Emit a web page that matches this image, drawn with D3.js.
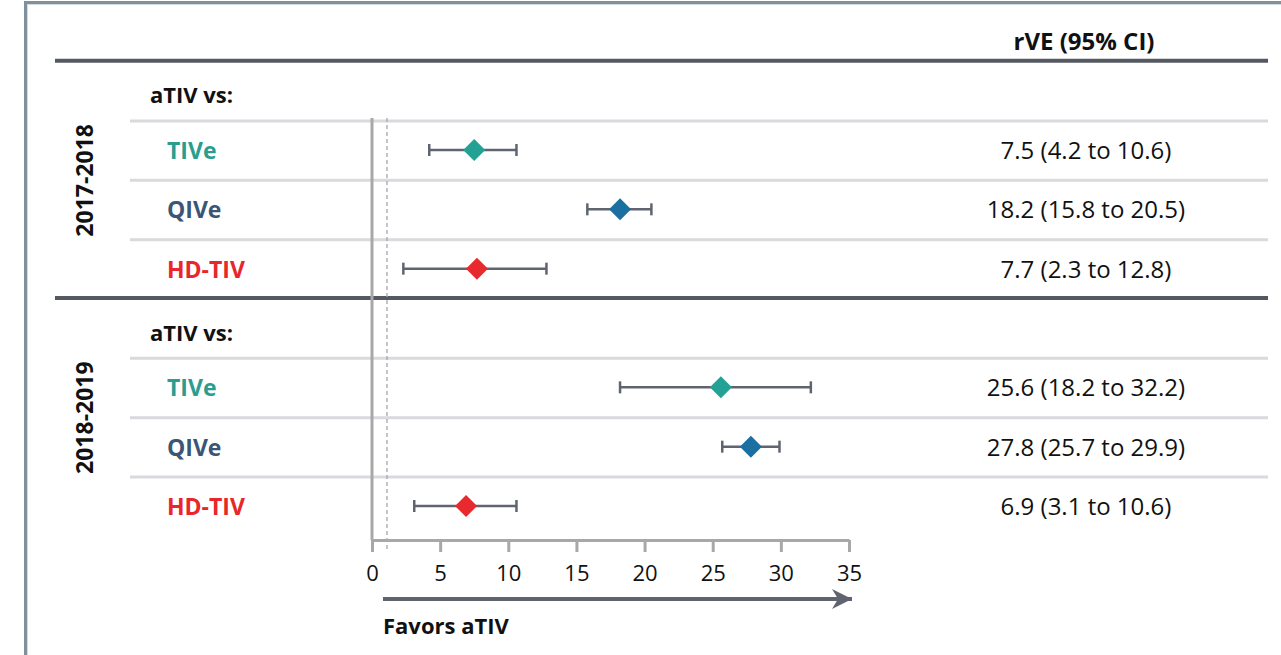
<!DOCTYPE html>
<html>
<head>
<meta charset="utf-8">
<script src="https://cdn.jsdelivr.net/npm/d3@7"></script>
<style>
  body { margin: 0; background: #fff; }
  svg { display: block; font-family: "Open Sans", "Liberation Sans", sans-serif; }
</style>
</head>
<body>
<svg id="chart" width="1281" height="655"></svg>
<script>
const seasons = ['2017-2018', '2018-2019'];
const comparators = ['TIVe', 'QIVe', 'HD-TIV'];
const rve = [[7.5, 18.2, 7.7], [25.6, 27.8, 6.9]];
const lower = [[4.2, 15.8, 2.3], [18.2, 25.7, 3.1]];
const upper = [[10.6, 20.5, 12.8], [32.2, 29.9, 10.6]];
const xTicks = [0, 5, 10, 15, 20, 25, 30, 35];
const refValue = 1.1;

const COLORS = {
  'TIVe':   { label: '#2a9d8f', mark: '#24a195' },
  'QIVe':   { label: '#3b5577', mark: '#1b6fa1' },
  'HD-TIV': { label: '#e8262c', mark: '#e8292e' },
};

const svg = d3.select('#chart');

// rows: 0 header, 1-3 season 1, 4 header, 5-7 season 2
const x = d3.scaleLinear().domain([0, 35]).range([372, 849]);
const y = d3.scaleLinear().domain([1, 7]).range([150, 506]);

const rows = [];
seasons.forEach((s, si) => {
  comparators.forEach((c, ci) => {
    rows.push({ season: s, name: c, idx: si * 4 + ci + 1,
      est: rve[si][ci], lo: lower[si][ci], hi: upper[si][ci] });
  });
});

// frame
svg.append('rect').attr('x', 25.5).attr('y', 2.5).attr('width', 1300).attr('height', 700)
  .attr('fill', 'none').attr('stroke', '#7f909e').attr('stroke-width', 3);
svg.append('rect').attr('x', 27.5).attr('y', 4.5).attr('width', 1300).attr('height', 700)
  .attr('fill', 'none').attr('stroke', '#d3dae0').attr('stroke-width', 1);

// header
svg.append('text').attr('x', 1084).attr('y', 50).attr('text-anchor', 'middle')
  .attr('font-weight', 'bold').attr('font-size', 24).attr('fill', '#111')
  .text('rVE (95% CI)');

// light row separators
svg.selectAll('.row-line').data(rows).join('line').attr('class', 'row-line')
  .attr('x1', 130).attr('x2', 1268)
  .attr('y1', d => y(d.idx) - 29).attr('y2', d => y(d.idx) - 29)
  .attr('stroke', '#d9d9de').attr('stroke-width', 3);

// dark section lines
svg.selectAll('.sec-line').data(seasons).join('line').attr('class', 'sec-line')
  .attr('x1', 55).attr('x2', 1268)
  .attr('y1', (d, i) => y(i * 4) - 30).attr('y2', (d, i) => y(i * 4) - 30)
  .attr('stroke', '#545861').attr('stroke-width', 4);

// season labels
svg.selectAll('.season').data(seasons).join('text').attr('class', 'season')
  .attr('transform', (d, i) => `translate(93,${y(i * 4 + 2) - 29}) rotate(-90)`)
  .attr('text-anchor', 'middle').attr('font-weight', 'bold').attr('font-size', 23)
  .attr('fill', '#111').text(d => d);

// "aTIV vs:" headers
svg.selectAll('.sub').data(seasons).join('text').attr('class', 'sub')
  .attr('x', 150).attr('y', (d, i) => y(i * 4) + 12.5)
  .attr('font-weight', 'bold').attr('font-size', 22).attr('fill', '#111')
  .text('aTIV vs:');

// row labels
svg.selectAll('.row-label').data(rows).join('text').attr('class', 'row-label')
  .attr('x', 167).attr('y', d => y(d.idx) + 9)
  .attr('font-weight', 'bold').attr('font-size', 23)
  .attr('fill', d => COLORS[d.name].label).text(d => d.name);

// rVE text
svg.selectAll('.row-val').data(rows).join('text').attr('class', 'row-val')
  .attr('x', 1086).attr('y', d => y(d.idx) + 9)
  .attr('text-anchor', 'middle').attr('font-size', 24).attr('fill', '#111')
  .text(d => `${d.est} (${d.lo} to ${d.hi})`);

// reference lines
svg.append('line').attr('x1', x(refValue)).attr('x2', x(refValue))
  .attr('y1', 118).attr('y2', 550)
  .attr('stroke', '#a6a6ae').attr('stroke-width', 1.3).attr('stroke-dasharray', '4,3');
svg.append('line').attr('x1', x(0)).attr('x2', x(0))
  .attr('y1', 118).attr('y2', 540)
  .attr('stroke', '#a8a8a8').attr('stroke-width', 3);

// axis
const axis = svg.append('g').attr('transform', 'translate(0,540)')
  .call(d3.axisBottom(x).tickValues(xTicks).tickSize(12).tickSizeOuter(0).tickPadding(13));
axis.select('.domain').attr('stroke', '#a8a8a8').attr('stroke-width', 3);
axis.selectAll('.tick line').attr('stroke', '#a8a8a8').attr('stroke-width', 3);
axis.selectAll('.tick text').attr('font-size', 22).attr('fill', '#111')
  .attr('font-family', '"Open Sans", sans-serif');

// whiskers
const wh = svg.append('g').attr('stroke', '#5f6470').attr('stroke-width', 2.5);
wh.selectAll('.ci').data(rows).join('line').attr('class', 'ci')
  .attr('x1', d => x(d.lo)).attr('x2', d => x(d.hi))
  .attr('y1', d => y(d.idx)).attr('y2', d => y(d.idx));
wh.selectAll('.cap-lo').data(rows).join('line').attr('class', 'cap-lo')
  .attr('x1', d => x(d.lo)).attr('x2', d => x(d.lo))
  .attr('y1', d => y(d.idx) - 6).attr('y2', d => y(d.idx) + 6);
wh.selectAll('.cap-hi').data(rows).join('line').attr('class', 'cap-hi')
  .attr('x1', d => x(d.hi)).attr('x2', d => x(d.hi))
  .attr('y1', d => y(d.idx) - 6).attr('y2', d => y(d.idx) + 6);

// diamonds
const diamond = d3.symbol().type(d3.symbolSquare).size(242);
svg.selectAll('.est').data(rows).join('path').attr('class', 'est')
  .attr('d', diamond)
  .attr('transform', d => `translate(${x(d.est)},${y(d.idx)}) rotate(45)`)
  .attr('fill', d => COLORS[d.name].mark);

// favors arrow
svg.append('defs').append('marker').attr('id', 'arrow')
  .attr('viewBox', '0 0 10 10').attr('refX', 10).attr('refY', 5)
  .attr('markerWidth', 6.5).attr('markerHeight', 5).attr('markerUnits', 'strokeWidth')
  .attr('orient', 'auto')
  .append('path').attr('d', 'M0,0 L10,5 L0,10 L3,5 Z').attr('fill', '#5f6470');
svg.append('line').attr('x1', 383).attr('x2', 852).attr('y1', 599).attr('y2', 599)
  .attr('stroke', '#5f6470').attr('stroke-width', 4).attr('marker-end', 'url(#arrow)');
svg.append('text').attr('x', 383).attr('y', 634)
  .attr('font-weight', 'bold').attr('font-size', 22).attr('fill', '#111')
  .text('Favors aTIV');
</script>
</body>
</html>
